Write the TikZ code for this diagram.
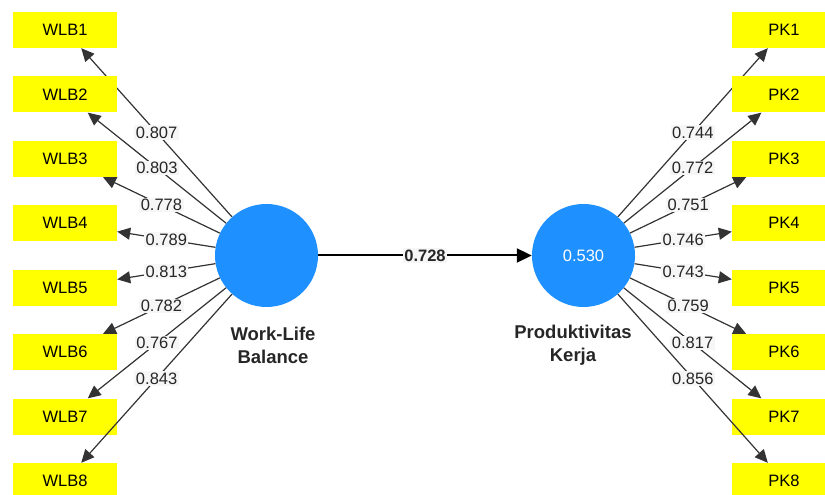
\documentclass[tikz,border=0pt]{standalone}
\usepackage{fontspec}
\setmainfont{Liberation Sans}
\usetikzlibrary{arrows.meta}
\definecolor{indyellow}{RGB}{255,255,0}
\definecolor{lvblue}{RGB}{30,144,255}
\definecolor{labelbg}{RGB}{246,246,246}
\begin{document}
\begin{tikzpicture}[x=1pt,y=1pt,
  indicator/.style={fill=indyellow, minimum width=104pt, minimum height=36pt,
    inner sep=0pt, font=\fontsize{16.5}{18}\selectfont},
  latent/.style={circle, fill=lvblue, minimum size=103pt, inner sep=0pt,
    text=white, font=\fontsize{16.5}{18}\selectfont},
  latentname/.style={align=center, text=black!85,
    font=\fontsize{18.5}{23}\selectfont\bfseries},
  loading/.style={draw=black!80, line width=1.2pt,
    -{Triangle[length=13pt,width=12pt]}},
  structural/.style={draw=black, line width=2pt,
    -{Triangle[length=15pt,width=14pt]}},
  weight/.style={fill=labelbg, inner sep=1.5pt, text=black!85,
    font=\fontsize{16.5}{18}\selectfont},
]
\useasboundingbox (0,0) rectangle (825,495);
\clip (0,0) rectangle (825,495);

% latent variables
\node[latent] (wlb) at (266.5,239.5) {};
\node[latent] (pk) at (583.5,239.5) {0.530};
\node[latentname] (wlbname) at (273,149.5) {Work-Life\\Balance};
\node[latentname] (pkname) at (573,149.5) {Produktivitas\\Kerja};

% outer loadings of Work-Life Balance
\foreach \i/\v in {1/0.807,2/0.803,3/0.778,4/0.789,5/0.813,6/0.782,7/0.767,8/0.843}{
  \node[indicator] (wlb\i) at (65,{465-(\i-1)*64.43}) {WLB\i};
  \draw[loading] (wlb) -- node[weight] {\v} (wlb\i);
}

% outer loadings of Produktivitas Kerja
\foreach \i/\v in {1/0.744,2/0.772,3/0.751,4/0.746,5/0.743,6/0.759,7/0.817,8/0.856}{
  \node[indicator] (pk\i) at (784,{465-(\i-1)*64.43}) {PK\i};
  \draw[loading] (pk) -- node[weight] {\v} (pk\i);
}

% path coefficient
\draw[structural] (wlb) -- node[weight, font=\fontsize{16.5}{18}\selectfont\bfseries] {0.728} (pk);
\end{tikzpicture}
\end{document}
